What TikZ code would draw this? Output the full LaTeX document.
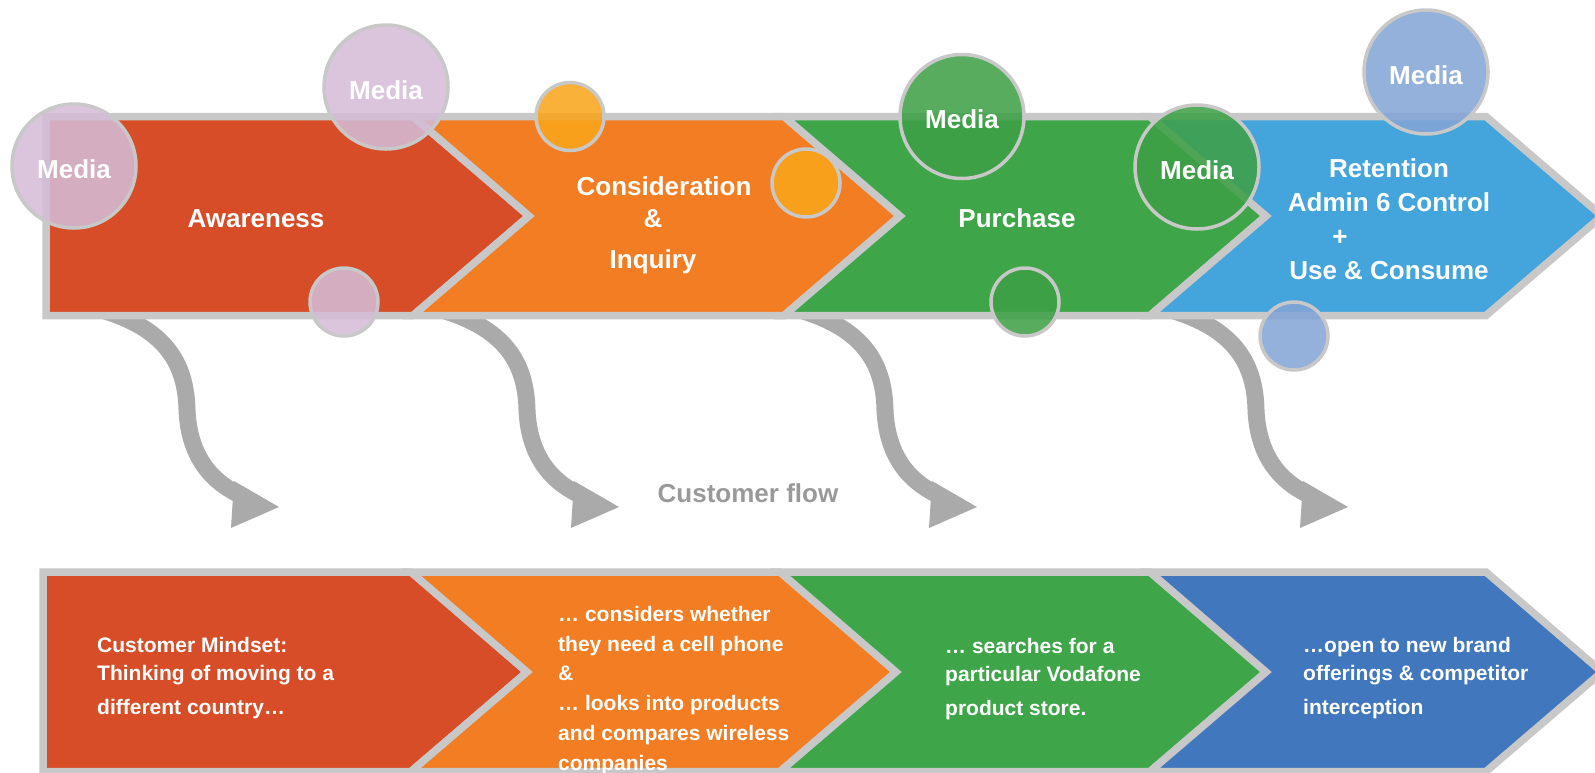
\documentclass[tikz,border=0pt]{standalone}
\usepackage{fontspec}
\setmainfont{Liberation Sans}
\usetikzlibrary{calc}
\definecolor{aware}{RGB}{214,77,39}
\definecolor{consider}{RGB}{243,125,34}
\definecolor{purchase}{RGB}{62,166,73}
\definecolor{retain}{RGB}{67,165,219}
\definecolor{loyal}{RGB}{65,119,189}
\definecolor{rim}{RGB}{200,200,200}
\definecolor{flowgray}{RGB}{170,170,170}
\definecolor{flowtext}{RGB}{153,153,153}
\definecolor{lilac}{RGB}{212,188,216}
\definecolor{amber}{RGB}{249,165,28}
\definecolor{leaf}{RGB}{62,160,70}
\definecolor{sky}{RGB}{131,165,214}
\tikzstyle{segment} = [draw=rim, line width=7.5pt, line join=miter]
\tikzstyle{stage} = [text=white, font=\bfseries\fontsize{26}{34}\selectfont, align=center, inner sep=0pt]
\tikzstyle{mindset} = [text=white, font=\bfseries\fontsize{21}{28}\selectfont, align=left, inner sep=0pt, anchor=base west]
\tikzstyle{media} = [circle, draw=rim, line width=3.5pt, fill opacity=0.87, text opacity=1, text=white, font=\bfseries\fontsize{26}{30}\selectfont, text height=24pt, text depth=0pt, minimum size=124pt, inner sep=0pt]
\tikzstyle{dot} = [media, minimum size=68pt]
\tikzstyle{flow} = [draw=flowgray, line width=17pt]

\begin{document}
\begin{tikzpicture}[x=1pt, y=-1pt]
      \useasboundingbox (0,0) rectangle (1595,772);
      \clip (0,0) rectangle (1595,772);

      % customer flow arrows
      \foreach \dx/\i in {0/1, 340/2, 698/3, 1069/4} {
        \begin{scope}[xshift=\dx pt]
          \coordinate (s\i) at (102,310);
          \coordinate (m\i) at (187,410);
          \coordinate (e\i) at (238,494);
          \path [flow] (s\i) .. controls +(60,18) and +(-1,-50) .. (m\i)
                             .. controls +(2,45) and +(-28,-14) .. (e\i);
          \fill [flowgray] (234,481) -- (279,507) -- (231,528) -- cycle;
        \end{scope}
      }

      % top band
      \filldraw [segment, fill=aware] (46,116.5) -- (413,116.5) -- (529,216) -- (413,315.5) -- (46,315.5) -- cycle;
      \foreach \l/\r/\col in {413/784/consider, 784/1150/purchase, 1150/1486/retain}
        \filldraw [segment, fill=\col] (\l,116.5) -- (\r,116.5) -- (\r+116,216) -- (\r,315.5)
                                       -- (\l,315.5) -- (\l+116,216) -- cycle;

      % bottom band
      \filldraw [segment, fill=aware] (43,572) -- (411,572) -- (527,672) -- (411,771.5) -- (43,771.5) -- cycle;
      \foreach \l/\r/\col in {411/780/consider, 780/1150/purchase, 1150/1486/loyal}
        \filldraw [segment, fill=\col] (\l,572) -- (\r,572) -- (\r+116,672) -- (\r,771.5)
                                       -- (\l,771.5) -- (\l+116,672) -- cycle;

      % stage labels
      \node [stage] (aware) at (256,219) {Awareness};
      \node [stage, anchor=base] (inquire) at (653,268) {\hspace*{22pt}Consideration\\[-2pt] \&\\[7pt] Inquiry};
      \node [stage] (buy) at (1017,218) {Purchase};
      \node [stage, anchor=base] (retention) at (1389,279) {Retention\\Admin 6 Control\\+\hspace*{98pt}\mbox{}\\Use \& Consume};
      \node [font=\bfseries\fontsize{26}{30}\selectfont, text=flowtext, inner sep=0pt] (flow) at (748,493) {Customer flow};

      % media circles
      \node [media, fill=lilac] (media1) at (74,166) {Media};
      \node [media, fill=lilac] (media2) at (386,87) {Media};
      \node [dot, fill=lilac] (dot1) at (344,302) {};
      \node [dot, fill=amber] (dot2) at (570,116.5) {};
      \node [dot, fill=amber] (dot3) at (806,183) {};
      \node [media, fill=leaf] (media3) at (962,116.5) {Media};
      \node [dot, fill=leaf] (dot4) at (1025,302) {};
      \node [media, fill=leaf] (media4) at (1197,167) {Media};
      \node [media, fill=sky] (media5) at (1426,72) {Media};
      \node [dot, fill=sky] (dot5) at (1294,336) {};

      % customer mindset texts
      \node [mindset] (mind1) at (97,714) {Customer Mindset:\\Thinking of moving to a\\[6pt]different country…};
      \node [mindset, font=\bfseries\fontsize{21}{29.7}\selectfont] (mind2) at (558,770) {… considers whether\\they need a cell phone\\\&\\… looks into products\\and compares wireless\\companies};
      \node [mindset] (mind3) at (945,715) {… searches for a\\particular Vodafone\\[6pt]product store.};
      \node [mindset] (mind4) at (1303,714) {…open to new brand\\offerings \& competitor\\[6pt]interception};
\end{tikzpicture}
\end{document}
